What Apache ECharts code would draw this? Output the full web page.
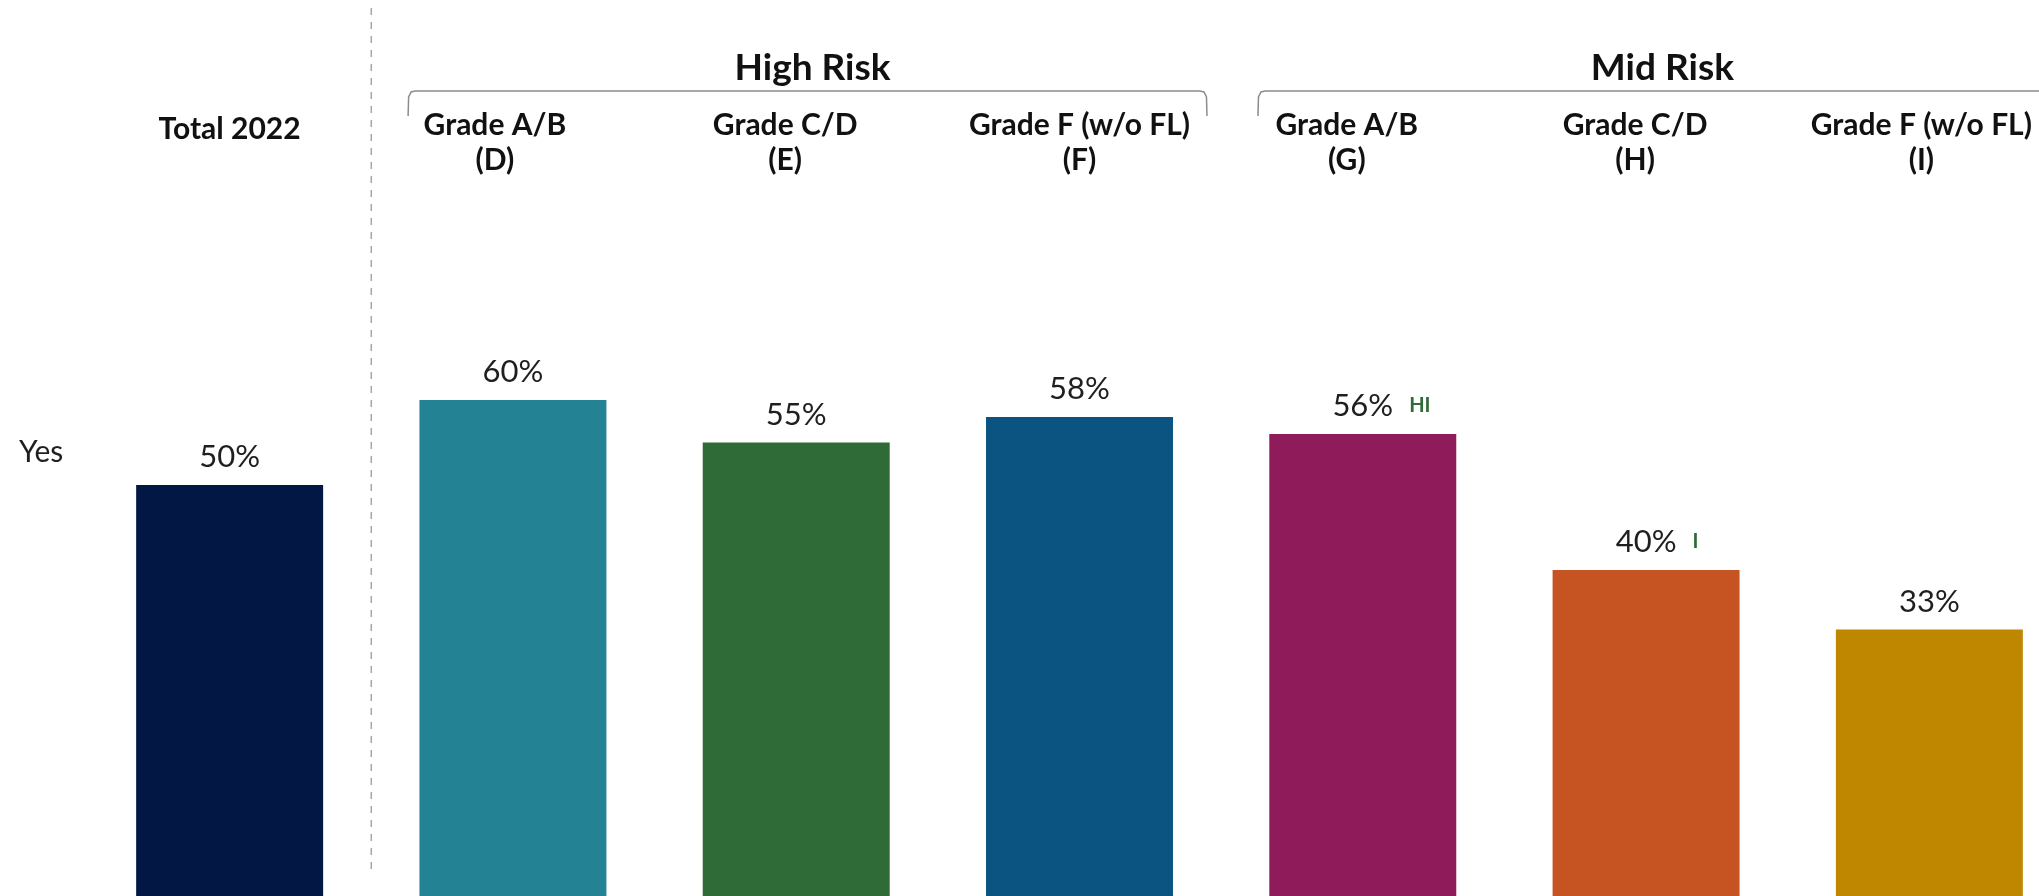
<!DOCTYPE html>
<html>
<head>
<meta charset="utf-8">
<script src="https://cdn.jsdelivr.net/npm/echarts@6/dist/echarts.min.js"></script>
<style>
  html, body { margin: 0; padding: 0; background: #ffffff; }
  #chart { width: 2039px; height: 896px; }
</style>
</head>
<body>
<div id="chart"></div>
<script>
// Share answering "Yes", by risk group and grade
const categories = [
  'Total 2022',
  'Grade A/B\n(D)',
  'Grade C/D\n(E)',
  'Grade F (w/o FL)\n(F)',
  'Grade A/B\n(G)',
  'Grade C/D\n(H)',
  'Grade F (w/o FL)\n(I)'
];
const yesShare = [50, 60, 55, 58, 56, 40, 33];
// significance letters shown beside a value
const sigLetters = ['', '', '', '', 'HI', 'I', ''];
const groups = [
  { name: 'High Risk', from: 1, to: 3 },
  { name: 'Mid Risk', from: 4, to: 6 }
];
const rowLabel = 'Yes';

// styling
const barColors = ['#031745', '#238294', '#2E6B37', '#0B5481', '#8F1B5A', '#C65423', '#BF8600'];
const labelShift = [0, -18, -11, 0, -16, -11, -8];
const FONT = 'Lato, "Noto Sans", sans-serif';
const SIG_FONT_SIZE = 20;
const SIG_GAP = 16;

const measureCtx = document.createElement('canvas').getContext('2d');
function textWidth(text, font) {
  measureCtx.font = font;
  return measureCtx.measureText(text).width;
}

function valueLabel(v, sig) {
  const base = {
    v: { fontFamily: FONT, fontSize: 31, color: '#1f1f1f', lineHeight: 32, verticalAlign: 'middle' },
    s: { fontFamily: FONT, fontSize: SIG_FONT_SIZE, fontWeight: 'bold', color: '#2E6B37', lineHeight: 32, verticalAlign: 'middle' },
    g: { width: SIG_GAP, lineHeight: 32 },
    p: { lineHeight: 32, width: 0 }
  };
  if (!sig) {
    return { formatter: '{v|' + v + '%}', rich: base };
  }
  const sw = textWidth(sig, 'bold ' + SIG_FONT_SIZE + 'px ' + FONT);
  base.p = { lineHeight: 32, width: sw + SIG_GAP };
  return { formatter: '{p|}{v|' + v + '%}{g|}{s|' + sig + '}', rich: base };
}

function labelPadding(i) {
  const s = labelShift[i];
  const top = i === 0 ? 4 : 0;
  return s < 0 ? [top, -2 * s, 0, 0] : [top, 0, 0, 2 * s];
}

const chart = echarts.init(document.getElementById('chart'), null, { renderer: 'canvas' });

const option = {
  backgroundColor: '#ffffff',
  animation: false,
  grid: { left: 88, top: 60, width: 1983, height: 850, containLabel: false, outerBoundsMode: 'none' },
  xAxis: {
    type: 'category',
    position: 'top',
    data: categories.map((c, i) => ({
      value: c,
      textStyle: { padding: labelPadding(i) }
    })),
    axisLine: { show: false },
    axisTick: { show: false },
    splitLine: { show: false },
    axisLabel: {
      inside: true,
      interval: 0,
      margin: 48,
      fontFamily: FONT,
      fontSize: 30,
      fontWeight: 'bold',
      lineHeight: 35,
      color: '#111111',
      align: 'center'
    }
  },
  yAxis: {
    type: 'value',
    min: 0,
    max: 100,
    show: false
  },
  series: [{
    type: 'bar',
    barCategoryGap: '34%',
    data: yesShare.map((v, i) => ({
      value: v,
      itemStyle: { color: barColors[i] },
      label: valueLabel(v, sigLetters[i])
    })),
    label: {
      show: true,
      position: 'top',
      distance: 12
    }
  }]
};

chart.setOption(option);

// group brackets, divider and row label placed from the category axis
const px = i => chart.convertToPixel({ xAxisIndex: 0 }, i);
const band = px(1) - px(0);
const graphics = [];

const divX = (px(0) + px(1)) / 2;
graphics.push({
  type: 'line',
  shape: { x1: divX, y1: 8, x2: divX, y2: 870 },
  style: { stroke: '#a6a6a6', lineWidth: 1.5, lineDash: [7, 7] }
});

groups.forEach(g => {
  const left = px(g.from) - band * 0.37;
  const right = px(g.to) + band * 0.45;
  const y = 91, yEnd = 116;
  graphics.push({
    type: 'polyline',
    shape: {
      points: [[left, yEnd], [left + 0.5, y + 6], [left + 3, y + 1], [left + 7, y],
               [right - 7, y], [right - 3, y + 1], [right - 0.5, y + 6], [right, yEnd]]
    },
    style: { stroke: '#8c8c8c', lineWidth: 1.5, fill: null }
  });
  graphics.push({
    type: 'text',
    x: (left + right) / 2 + 5,
    y: 68,
    style: {
      text: g.name,
      font: 'bold 37px ' + FONT,
      fill: '#111111',
      textAlign: 'center',
      textVerticalAlign: 'middle'
    }
  });
});

graphics.push({
  type: 'text',
  x: 19,
  y: 452,
  style: {
    text: rowLabel,
    font: '30px ' + FONT,
    fill: '#1f1f1f',
    textAlign: 'left',
    textVerticalAlign: 'middle'
  }
});

chart.setOption({ graphic: { elements: graphics } });
</script>
</body>
</html>
